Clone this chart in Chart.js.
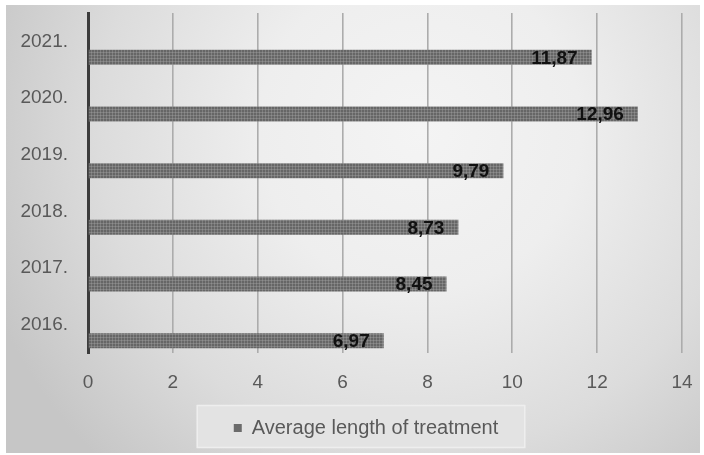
<!DOCTYPE html>
<html>
<head>
<meta charset="utf-8">
<script src="https://cdn.jsdelivr.net/npm/chart.js@4/dist/chart.umd.min.js"></script>
<style>
  html, body { margin: 0; padding: 0; background: #ffffff; }
  #wrap { width: 704px; height: 455px; }
</style>
</head>
<body>
<div id="wrap"><canvas id="c" width="704" height="455"></canvas></div>
<script>
// Years shown on the category axis, top to bottom
const years = ['2021.', '2020.', '2019.', '2018.', '2017.', '2016.'];
// Average length of treatment per year
const avgLength = [11.87, 12.96, 9.79, 8.73, 8.45, 6.97];
// Empty companion series that keeps the bars in the lower half of each band
const spacer = [null, null, null, null, null, null];
// Value axis ticks
const xTicks = [0, 2, 4, 6, 8, 10, 12, 14];
const seriesName = 'Average length of treatment';

const FONT = "'Liberation Sans', Arial, sans-serif";
const TEXT_GREY = '#595959';

// Fine cross-hatched grey fill for the bars
function makeHatch() {
  const t = document.createElement('canvas');
  t.width = 3; t.height = 3;
  const g = t.getContext('2d');
  g.fillStyle = '#666666';
  g.fillRect(0, 0, 3, 3);
  g.fillStyle = '#7e7e7e';
  g.fillRect(1, 0, 1, 3);
  g.fillRect(0, 1, 3, 1);
  g.fillStyle = '#8e8e8e';
  g.fillRect(1, 1, 1, 1);
  return g.createPattern(t, 'repeat');
}

// Light radial backdrop inside a thin white frame, plus the legend panel
const backdrop = {
  id: 'backdrop',
  afterLayout(chart) {
    // centre the legend row a little right of the canvas middle
    const lg = chart.legend;
    const dx = 366 - (lg.left + lg.right) / 2;
    lg.left += dx;
    lg.right += dx;
  },
  beforeDraw(chart) {
    const ctx = chart.ctx;
    ctx.save();
    ctx.fillStyle = '#ffffff';
    ctx.fillRect(0, 0, chart.width, chart.height);
    const grad = ctx.createRadialGradient(420, 130, 0, 420, 130, 460);
    grad.addColorStop(0, '#f4f4f4');
    grad.addColorStop(0.35, '#eeeeee');
    grad.addColorStop(0.7, '#dcdcdc');
    grad.addColorStop(1, '#c6c6c6');
    ctx.fillStyle = grad;
    ctx.fillRect(6, 5, 694, 448);

    const lg = chart.legend;
    if (lg && lg.legendHitBoxes && lg.legendHitBoxes.length) {
      const hb = lg.legendHitBoxes[0];
      const cy = hb.top + hb.height / 2;
      const x0 = hb.left - 37, x1 = hb.left + hb.width + 27;
      ctx.fillStyle = '#e3e3e3';
      ctx.fillRect(x0, cy - 23, x1 - x0, 43);
      ctx.strokeStyle = '#eeeeee';
      ctx.lineWidth = 1.5;
      ctx.strokeRect(x0 + 0.5, cy - 22.5, x1 - x0 - 1, 42);
    }
    ctx.restore();
  }
};

// Bold value labels just inside the end of each bar
const valueLabels = {
  id: 'valueLabels',
  afterDatasetsDraw(chart) {
    const meta = chart.getDatasetMeta(1);
    const ctx = chart.ctx;
    ctx.save();
    ctx.font = "bold 19px " + FONT;
    ctx.fillStyle = '#111111';
    ctx.textAlign = 'right';
    ctx.textBaseline = 'middle';
    meta.data.forEach((bar, i) => {
      const v = avgLength[i];
      ctx.fillText(v.toFixed(2).replace('.', ','), bar.x - 14, bar.y + 1);
    });
    ctx.restore();
  }
};

new Chart(document.getElementById('c'), {
  type: 'bar',
  data: {
    labels: years,
    datasets: [
      { label: 'spacer', data: spacer, backgroundColor: 'rgba(0,0,0,0)' },
      { label: seriesName, data: avgLength, backgroundColor: makeHatch(), borderWidth: 0 }
    ]
  },
  options: {
    indexAxis: 'y',
    responsive: false,
    animation: false,
    devicePixelRatio: 1,
    categoryPercentage: 1.13,
    barPercentage: 0.47,
    layout: { padding: { left: 6, right: 22, top: 13, bottom: 7 } },
    scales: {
      x: {
        min: 0,
        max: 14,
        afterBuildTicks(scale) { scale.ticks = xTicks.map(v => ({ value: v })); },
        afterFit(scale) { scale.height = 55; scale.paddingLeft = 0; scale.paddingRight = 0; },
        grid: { color: '#acacac', lineWidth: 1.6, drawTicks: false },
        border: { display: false },
        ticks: { color: TEXT_GREY, font: { family: FONT, size: 19 }, padding: 18 }
      },
      y: {
        afterFit(scale) { scale.width = 82; scale.paddingTop = 0; scale.paddingBottom = 0; },
        grid: { display: false, drawTicks: false },
        border: { display: true, color: '#3c3c3c', width: 3 },
        ticks: { color: TEXT_GREY, font: { family: FONT, size: 19 }, padding: 20 }
      }
    },
    plugins: {
      tooltip: { enabled: false },
      legend: {
        position: 'bottom',
        labels: {
          color: TEXT_GREY,
          font: { family: FONT, size: 20 },
          boxWidth: 8,
          boxHeight: 8,
          padding: 10,
          generateLabels() {
            return [{
              text: seriesName,
              fillStyle: '#6b6b6b',
              strokeStyle: '#6b6b6b',
              lineWidth: 0,
              fontColor: TEXT_GREY,
              hidden: false,
              datasetIndex: 1
            }];
          }
        }
      }
    }
  },
  plugins: [backdrop, valueLabels]
});
</script>
</body>
</html>
